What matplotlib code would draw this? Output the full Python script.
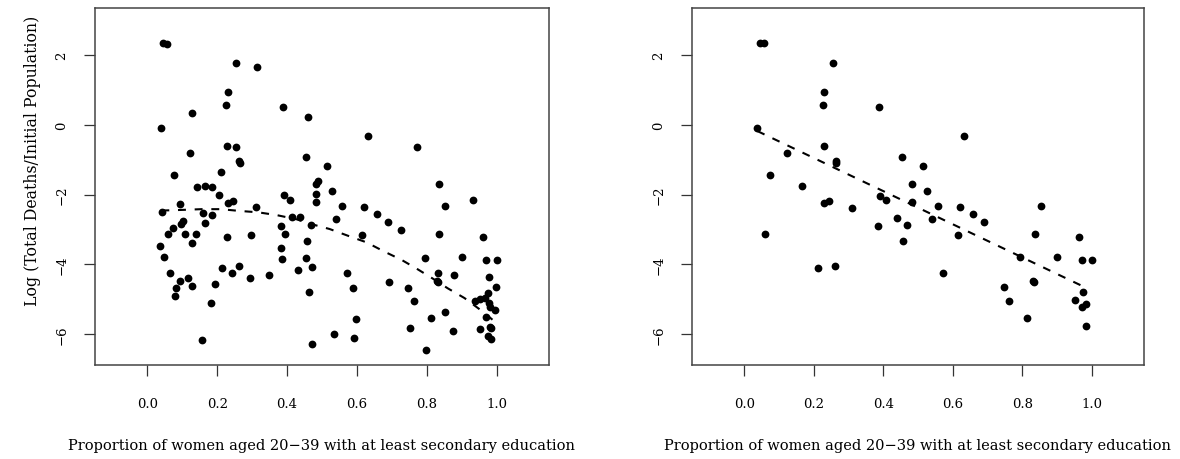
import matplotlib
matplotlib.use('Agg')
import matplotlib.pyplot as plt

# all countries (left panel)
x_all = [0.044, 0.057, 0.255, 0.313, 0.231, 0.225, 0.387, 0.129, 0.460, 0.038,
         0.228, 0.255, 0.123, 0.262, 0.264, 0.454, 0.075, 0.210, 0.141, 0.165,
         0.184, 0.482, 0.489, 0.483, 0.483, 0.633, 0.773, 0.515, 0.528, 0.834,
         0.204, 0.230, 0.246, 0.310, 0.391, 0.408, 0.042, 0.093, 0.158, 0.185,
         0.166, 0.103, 0.097, 0.074, 0.058, 0.108, 0.139, 0.129, 0.037, 0.048,
         0.228, 0.296, 0.383, 0.393, 0.383, 0.386, 0.415, 0.438, 0.468, 0.457,
         0.454, 0.471, 0.431, 0.462, 0.470, 0.155, 0.181, 0.066, 0.093, 0.115,
         0.127, 0.081, 0.080, 0.193, 0.214, 0.243, 0.261, 0.293, 0.348, 0.558,
         0.620, 0.657, 0.688, 0.725, 0.539, 0.615, 0.851, 0.933, 0.834, 0.960,
         0.794, 0.900, 0.971, 1.000, 0.573, 0.588, 0.691, 0.745, 0.764, 0.833,
         0.877, 0.828, 0.833, 0.979, 0.997, 0.976, 0.937, 0.953, 0.967, 0.979,
         0.981, 0.996, 0.971, 0.596, 0.813, 0.853, 0.533, 0.593, 0.751,
         0.876, 0.951, 0.981, 0.984, 0.976, 0.985, 0.797]
y_all = [2.36, 2.33, 1.76, 1.65, 0.94, 0.58, 0.51, 0.34, 0.22, -0.10,
         -0.60, -0.64, -0.81, -1.03, -1.10, -0.93, -1.43, -1.35, -1.77, -1.76,
         -1.77, -1.70, -1.62, -1.99, -2.21, -0.33, -0.63, -1.18, -1.91, -1.71,
         -2.02, -2.23, -2.18, -2.37, -2.02, -2.15, -2.50, -2.28, -2.52, -2.59,
         -2.83, -2.75, -2.85, -2.97, -3.14, -3.12, -3.12, -3.39, -3.48, -3.80,
         -3.21, -3.15, -2.90, -3.14, -3.52, -3.86, -2.64, -2.64, -2.87, -3.34,
         -3.82, -4.08, -4.16, -4.81, -6.28, -6.16, -5.12, -4.26, -4.47, -4.39,
         -4.61, -4.68, -4.92, -4.57, -4.10, -4.25, -4.05, -4.40, -4.32, -2.32,
         -2.35, -2.55, -2.78, -3.02, -2.70, -3.15, -2.32, -2.16, -3.12, -3.22,
         -3.81, -3.80, -3.89, -3.88, -4.26, -4.67, -4.50, -4.67, -5.06, -4.24,
         -4.31, -4.49, -4.51, -4.37, -4.64, -4.82, -5.05, -5.01, -4.98, -5.10,
         -5.24, -5.31, -5.51, -5.56, -5.53, -5.36, -5.99, -6.12, -5.84,
         -5.91, -5.86, -5.79, -5.83, -6.05, -6.13, -6.45]

# smooth curve, left panel
curve_x = [0.040, 0.103, 0.155, 0.210, 0.263, 0.317, 0.370, 0.427, 0.470, 0.522,
           0.579, 0.627, 0.679, 0.727, 0.770, 0.817, 0.860, 0.908, 0.951, 0.998]
curve_y = [-2.46, -2.44, -2.42, -2.42, -2.47, -2.51, -2.59, -2.71, -2.85, -2.99,
           -3.20, -3.37, -3.64, -3.87, -4.12, -4.41, -4.69, -4.97, -5.29, -5.67]

# subset (right panel)
x_sub = [0.046, 0.058, 0.256, 0.231, 0.227, 0.388, 0.038, 0.229, 0.123, 0.263,
         0.265, 0.454, 0.075, 0.165, 0.482, 0.515, 0.633, 0.527, 0.230, 0.244,
         0.310, 0.391, 0.408, 0.484, 0.059, 0.384, 0.441, 0.468, 0.458, 0.213,
         0.261, 0.558, 0.620, 0.657, 0.689, 0.540, 0.615, 0.853, 0.836, 0.962,
         0.793, 0.900, 0.972, 1.000, 0.573, 0.748, 0.763, 0.830, 0.833, 0.975,
         0.952, 0.984, 0.971, 0.813, 0.984]
y_sub = [2.36, 2.34, 1.76, 0.94, 0.58, 0.51, -0.10, -0.60, -0.81, -1.05,
         -1.10, -0.93, -1.43, -1.76, -1.70, -1.18, -0.33, -1.91, -2.23, -2.18,
         -2.39, -2.04, -2.16, -2.21, -3.14, -2.89, -2.66, -2.87, -3.34, -4.11,
         -4.05, -2.32, -2.35, -2.55, -2.78, -2.70, -3.15, -2.32, -3.12, -3.22,
         -3.80, -3.80, -3.89, -3.88, -4.26, -4.66, -5.06, -4.49, -4.52, -4.81,
         -5.02, -5.14, -5.24, -5.53, -5.78]

# linear fit line, right panel
fit_x = [0.038, 0.980]
fit_y = [-0.18, -4.66]

x_ticks = [0.0, 0.2, 0.4, 0.6, 0.8, 1.0]
x_ticklabels = ['0.0', '0.2', '0.4', '0.6', '0.8', '1.0']
y_ticks = [-6, -4, -2, 0, 2]
xlab = 'Proportion of women aged 20\u221239 with at least secondary education'
ylab = 'Log (Total Deaths/Initial Population)'

plt.rcParams['font.family'] = ['DejaVu Serif']
plt.rcParams['font.size'] = 9.5

fig = plt.figure(figsize=(11.8, 4.6), dpi=100)
ax1 = fig.add_axes([95 / 1180, 94 / 460, 454 / 1180, 357 / 460])
ax2 = fig.add_axes([692 / 1180, 94 / 460, 452 / 1180, 357 / 460])


def style(ax):
    ax.set_xlim(-0.15, 1.15)
    ax.set_ylim(-6.89, 3.35)
    ax.set_xticks(x_ticks)
    ax.set_xticklabels(x_ticklabels)
    ax.set_yticks(y_ticks)
    ax.set_yticklabels([str(v).replace('-', '\u2212') for v in y_ticks],
                       rotation=90, va='center')
    ax.tick_params(axis='x', length=8, width=0.9, pad=15, color='#333333')
    ax.tick_params(axis='y', length=8, width=0.9, pad=11, color='#333333')
    for s in ax.spines.values():
        s.set_color('#444444')
        s.set_linewidth(1.1)
    ax.set_xlabel(xlab, fontsize=10.5)
    ax.xaxis.set_label_coords(0.5, -0.205)


ax1.plot(x_all, y_all, 'o', color='black', markersize=5.6, markeredgewidth=0)
ax1.plot(curve_x, curve_y, color='black', lw=1.5, dashes=(3.8, 4.2))
style(ax1)
ax1.set_ylabel(ylab, fontsize=11.3)
ax1.yaxis.set_label_coords(-0.119, 0.574)

ax2.plot(x_sub, y_sub, 'o', color='black', markersize=5.6, markeredgewidth=0)
ax2.plot(fit_x, fit_y, color='black', lw=1.5, dashes=(3.8, 4.2))
style(ax2)

fig.savefig('out.png', dpi=100)
